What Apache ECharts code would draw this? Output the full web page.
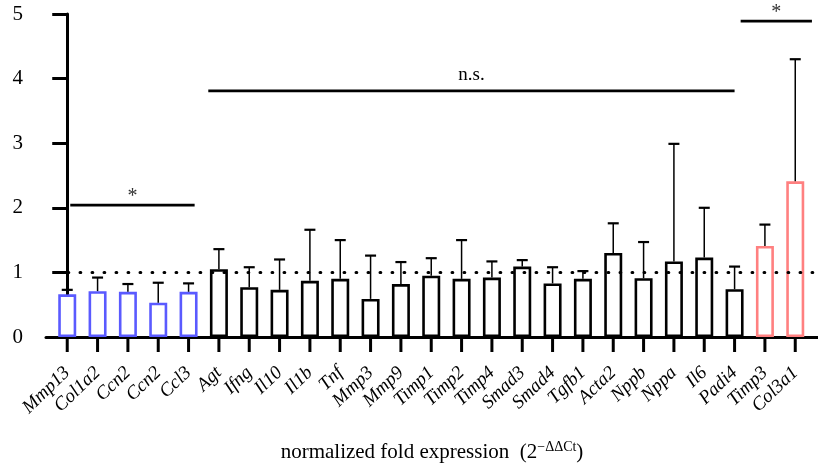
<!DOCTYPE html>
<html><head><meta charset="utf-8">
<script src="https://cdn.jsdelivr.net/npm/echarts@6/dist/echarts.min.js"></script>
<style>html,body{margin:0;padding:0;background:#fff}#c{width:818px;height:468px}</style>
</head><body><div id="c"></div>
<script>
const categories = ['Mmp13','Col1a2','Ccn2','Ccn2','Ccl3','Agt','Ifng','Il10','Il1b','Tnf','Mmp3','Mmp9','Timp1','Timp2','Timp4','Smad3','Smad4','Tgfb1','Acta2','Nppb','Nppa','Il6','Padi4','Timp3','Col3a1'];
const means = [0.66,0.71,0.70,0.53,0.70,1.05,0.77,0.73,0.87,0.90,0.59,0.82,0.95,0.90,0.92,1.09,0.83,0.90,1.30,0.91,1.17,1.23,0.74,1.41,2.41];
const upperErr = [0.73,0.92,0.82,0.84,0.83,1.36,1.08,1.20,1.66,1.50,1.26,1.16,1.22,1.50,1.17,1.19,1.08,1.02,1.76,1.47,2.99,2.00,1.09,1.74,4.30];
const groups = ['down','down','down','down','down','ns','ns','ns','ns','ns','ns','ns','ns','ns','ns','ns','ns','ns','ns','ns','ns','ns','ns','up','up'];
const groupColors = {down:'#5a5aff', ns:'#000000', up:'#ff8080'};
const yTicks = [0,1,2,3,4,5];
const baseline = 1;
const sigBars = [
  {from:0.1, to:4.2, y:2.04, text:'*'},
  {from:4.65, to:22.0, y:3.81, text:'n.s.'},
  {from:22.2, to:24.55, y:4.89, text:'*'}
];
const xMin = -0.7, xMax = 24.75;

const serif = '"Liberation Serif", "DejaVu Serif", serif';
const idx = categories.map((c,i)=>i);

const chart = echarts.init(document.getElementById('c'), null, {renderer:'canvas'});
chart.setOption({
  animation:false,
  backgroundColor:'#fff',
  grid:{left:46, right:0, top:14, bottom:131, containLabel:false, outerBoundsMode:'none'},
  xAxis:{
    type:'value', min:xMin, max:xMax,
    splitLine:{show:false},
    axisLine:{show:true, onZero:false, lineStyle:{color:'#000', width:3}},
    axisTick:{show:false},
    axisLabel:{show:true, customValues:idx, rotate:44, margin:33, color:'#000',
      fontFamily:serif, fontStyle:'italic', fontSize:19,
      formatter:v=>categories[Math.round(v)]},
    name:'{n|normalized fold expression  (2}{s|−ΔΔCt}{n|)}',
    nameLocation:'middle', nameGap:103,
    nameTextStyle:{color:'#000', fontFamily:serif, fontSize:21,
      rich:{n:{fontFamily:serif, fontSize:21, color:'#000'},
            s:{fontFamily:serif, fontSize:14, color:'#000', padding:[0,0,10,0]}}}
  },
  yAxis:{
    type:'value', min:yTicks[0], max:yTicks[yTicks.length-1], interval:1,
    splitLine:{show:false},
    axisLine:{show:true, lineStyle:{color:'#000', width:3}},
    axisTick:{show:true, length:15, lineStyle:{color:'#000', width:3}},
    axisLabel:{color:'#000', fontFamily:serif, fontSize:21, margin:23}
  },
  series:[
    {
      type:'bar', barWidth:18, z:2,
      data: means.map((v,i)=>({value:[i,v], itemStyle:{color:'#fff', borderColor:groupColors[groups[i]], borderWidth:2.6}}))
    },
    {
      type:'custom', z:3, clip:false,
      data: means.map((v,i)=>[i,v,upperErr[i]]),
      renderItem:(params, api)=>{
        const i = api.value(0);
        const p0 = api.coord([i, api.value(1)]);
        const p1 = api.coord([i, api.value(2)]);
        const pb = api.coord([i, 0]);
        return {type:'group', children:[
          {type:'line', shape:{x1:p0[0], y1:p0[1], x2:p1[0], y2:p1[1]}, style:{stroke:'#000', lineWidth:1.5}},
          {type:'line', shape:{x1:p1[0]-5.5, y1:p1[1], x2:p1[0]+5.5, y2:p1[1]}, style:{stroke:'#000', lineWidth:2.2}},
          {type:'line', shape:{x1:pb[0], y1:pb[1], x2:pb[0], y2:pb[1]+15}, style:{stroke:'#000', lineWidth:3}}
        ]};
      }
    },
    {
      type:'custom', z:5, clip:false, silent:true,
      data:[[-0.37, xMax, baseline]],
      renderItem:(params, api)=>{
        const a = api.coord([api.value(0), api.value(2)]);
        const b = api.coord([api.value(1), api.value(2)]);
        return {type:'line', shape:{x1:a[0], y1:a[1], x2:b[0], y2:b[1]},
          style:{stroke:'#000', lineWidth:3, lineDash:[0.8,11.2], lineCap:'round'}};
      }
    },
    {
      type:'custom', z:4, clip:false,
      data: sigBars.map(s=>[s.from, s.to, s.y]),
      renderItem:(params, api)=>{
        const s = sigBars[params.dataIndex];
        const a = api.coord([api.value(0), api.value(2)]);
        const b = api.coord([api.value(1), api.value(2)]);
        const star = s.text === '*';
        return {type:'group', children:[
          {type:'line', shape:{x1:a[0], y1:a[1], x2:b[0], y2:b[1]}, style:{stroke:'#000', lineWidth:2.8}},
          {type:'text', style:{text:s.text, x:(a[0]+b[0])/2, y:a[1]+(star?2:-6), align:'center', verticalAlign:'bottom',
            font: star ? '20px ' + serif : '19px ' + serif, fill: star ? '#333' : '#000'}}
        ]};
      }
    }
  ]
});
</script></body></html>
